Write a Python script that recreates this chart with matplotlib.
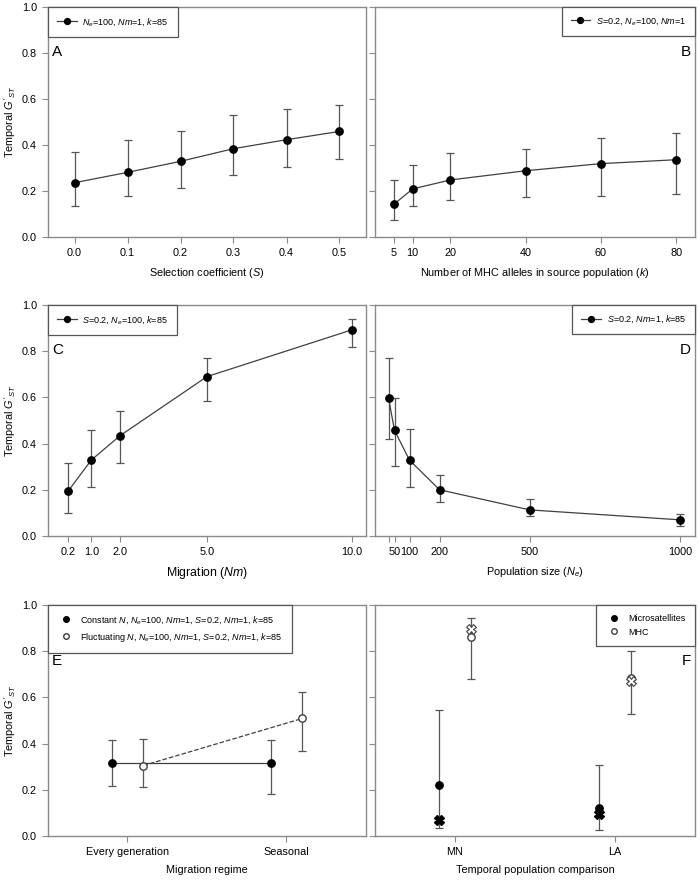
import matplotlib
matplotlib.use("Agg")
import matplotlib.pyplot as plt
from matplotlib.lines import Line2D

plt.rcParams['font.family'] = ['Liberation Sans', 'DejaVu Sans']
plt.rcParams['mathtext.fontset'] = 'custom'
plt.rcParams['mathtext.rm'] = 'Liberation Sans'
plt.rcParams['mathtext.it'] = 'Liberation Sans:italic'
plt.rcParams['mathtext.bf'] = 'Liberation Sans:bold'

# A: selection coefficient
s_vals = [0.0, 0.1, 0.2, 0.3, 0.4, 0.5]
s_mean = [0.236, 0.281, 0.329, 0.384, 0.423, 0.459]
s_low = [0.133, 0.180, 0.214, 0.268, 0.304, 0.339]
s_high = [0.370, 0.420, 0.461, 0.532, 0.557, 0.574]

# B: number of MHC alleles
k_vals = [5, 10, 20, 40, 60, 80]
k_mean = [0.142, 0.209, 0.248, 0.288, 0.319, 0.336]
k_low = [0.075, 0.136, 0.162, 0.172, 0.180, 0.187]
k_high = [0.249, 0.314, 0.367, 0.383, 0.432, 0.454]

# C: migration
nm_vals = [0.2, 1.0, 2.0, 5.0, 10.0]
nm_mean = [0.195, 0.329, 0.435, 0.690, 0.892]
nm_low = [0.100, 0.214, 0.318, 0.586, 0.820]
nm_high = [0.315, 0.461, 0.542, 0.772, 0.940]

# D: population size
ne_vals = [30, 50, 100, 200, 500, 1000]
ne_mean = [0.597, 0.457, 0.328, 0.200, 0.113, 0.070]
ne_low = [0.421, 0.304, 0.212, 0.147, 0.085, 0.045]
ne_high = [0.771, 0.597, 0.462, 0.263, 0.160, 0.095]

# E: migration regime
regimes = ['Every generation', 'Seasonal']
const_mean = [0.315, 0.315]
const_low = [0.215, 0.182]
const_high = [0.415, 0.415]
fluct_mean = [0.305, 0.509]
fluct_low = [0.210, 0.366]
fluct_high = [0.420, 0.624]

# F: temporal population comparison
pops = ['MN', 'LA']
micro_mean = [0.220, 0.123]
micro_low = [0.036, 0.028]
micro_high = [0.546, 0.307]
micro_obs = [0.071, 0.094]
mhc_mean = [0.861, 0.683]
mhc_low = [0.680, 0.527]
mhc_high = [0.944, 0.799]
mhc_obs = [0.897, 0.672]

SPINE = '#8a8a8a'
LINE = '#404040'
ERR = '#555555'
FS_TICK = 7.8
FS_LAB = 7.8
FS_LEG = 6.5

fig = plt.figure(figsize=(6.99, 8.80), dpi=100)
W, H = 699.0, 880.0


def make_ax(x0, x1, ytop, ybot):
    return fig.add_axes([x0 / W, 1 - ybot / H, (x1 - x0) / W, (ybot - ytop) / H])


axA = make_ax(48, 366, 7, 237)
axB = make_ax(375, 695, 7, 237)
axC = make_ax(48, 366, 305, 536)
axD = make_ax(375, 695, 305, 536)
axE = make_ax(48, 366, 605, 836)
axF = make_ax(375, 695, 605, 836)


def style(ax, left, xlabel, xfs=FS_LAB):
    for sp in ax.spines.values():
        sp.set_color(SPINE)
        sp.set_linewidth(1.0)
    ax.set_ylim(0, 1.0)
    ax.set_yticks([0, 0.2, 0.4, 0.6, 0.8, 1.0])
    ax.tick_params(direction='out', length=4, width=0.8, color=SPINE,
                   labelsize=FS_TICK, pad=4)
    if left:
        ax.set_yticklabels(['0.0', '0.2', '0.4', '0.6', '0.8', '1.0'])
        ax.set_ylabel(r"Temporal $G'_{ST}$", fontsize=FS_LAB)
        ax.yaxis.set_label_coords(-0.095, 0.5)
    else:
        ax.set_yticklabels([])
    ax.set_xlabel(xlabel, fontsize=xfs)
    ax.xaxis.set_label_coords(0.5, -0.125)


def errs(m, lo, hi):
    return [[a - b for a, b in zip(m, lo)], [c - a for a, c in zip(m, hi)]]


def series(ax, x, m, lo, hi, label):
    ax.errorbar(x, m, yerr=errs(m, lo, hi), fmt='none', ecolor=ERR,
                elinewidth=0.9, capsize=3, capthick=0.9, zorder=2)
    ax.plot(x, m, '-', color=LINE, lw=0.9, marker='o', ms=5.3,
            mfc='black', mec='black', label=label, zorder=3)


def legend(ax, loc, **kw):
    leg = ax.legend(loc=loc, fontsize=FS_LEG, frameon=True, fancybox=False,
                    framealpha=1, edgecolor='#555555', borderaxespad=0,
                    borderpad=1.0, **kw)
    leg.get_frame().set_linewidth(0.9)
    return leg


# A
style(axA, True, r'Selection coefficient ($S$)')
series(axA, s_vals, s_mean, s_low, s_high, r'$N_e$=100, $Nm$=1, $k$=85')
axA.set_xlim(-0.05, 0.55)
axA.set_xticks(s_vals)
axA.set_xticklabels(['%.1f' % v for v in s_vals])
legend(axA, 'upper left', handlelength=2.2, handletextpad=0.6, markerscale=0.8)
axA.text(0.012, 0.835, 'A', transform=axA.transAxes, fontsize=11, va='top')

# B
style(axB, False, r'Number of MHC alleles in source population ($k$)')
series(axB, k_vals, k_mean, k_low, k_high, r'$S$=0.2, $N_e$=100, $Nm$=1')
axB.set_xlim(0, 85)
axB.set_xticks(k_vals)
axB.set_xticklabels([str(v) for v in k_vals])
legend(axB, 'upper right', handlelength=2.2, handletextpad=0.6, markerscale=0.8)
axB.text(0.988, 0.835, 'B', transform=axB.transAxes, fontsize=11,
         va='top', ha='right')

# C
style(axC, True, r'Migration ($Nm$)', xfs=8.8)
series(axC, nm_vals, nm_mean, nm_low, nm_high, r'$S$=0.2, $N_e$=100, $k$=85')
axC.set_xlim(-0.5, 10.5)
axC.set_xticks(nm_vals)
axC.set_xticklabels(['%.1f' % v for v in nm_vals])
legend(axC, 'upper left', handlelength=2.2, handletextpad=0.6, markerscale=0.8)
axC.text(0.012, 0.835, 'C', transform=axC.transAxes, fontsize=11, va='top')

# D
style(axD, False, r'Population size ($N_e$)')
series(axD, ne_vals, ne_mean, ne_low, ne_high, r'$S$=0.2, $Nm$=1, $k$=85')
axD.set_xlim(-15, 1050)
axD.set_xticks(ne_vals)
axD.set_xticklabels([''] + [str(v) for v in ne_vals[1:]])
legend(axD, 'upper right', handlelength=2.2, handletextpad=0.6, markerscale=0.8)
axD.text(0.988, 0.835, 'D', transform=axD.transAxes, fontsize=11,
         va='top', ha='right')

# E
style(axE, True, 'Migration regime')
xe = [1, 2]
xc = [v - 0.1 for v in xe]
xf = [v + 0.1 for v in xe]
axE.errorbar(xc, const_mean, yerr=errs(const_mean, const_low, const_high),
             fmt='none', ecolor=ERR, elinewidth=0.9, capsize=3, capthick=0.9)
axE.errorbar(xf, fluct_mean, yerr=errs(fluct_mean, fluct_low, fluct_high),
             fmt='none', ecolor=ERR, elinewidth=0.9, capsize=3, capthick=0.9)
axE.plot(xc, const_mean, '-', color=LINE, lw=0.9, marker='o', ms=5.3,
         mfc='black', mec='black', zorder=3)
axE.plot(xf, fluct_mean, '--', color=LINE, lw=0.9, marker='o', ms=5.3,
         mfc='white', mec=LINE, zorder=3)
axE.set_xlim(0.5, 2.5)
axE.set_xticks(xe)
axE.set_xticklabels(regimes)
hE = [Line2D([], [], ls='none', marker='o', ms=4, mfc='black', mec='black'),
      Line2D([], [], ls='none', marker='o', ms=4, mfc='white', mec=LINE)]
legend(axE, 'upper left', handles=hE,
       labels=[r'Constant $N$, $N_e$=100, $Nm$=1, $S$=0.2, $Nm$=1, $k$=85',
               r'Fluctuating $N$, $N_e$=100, $Nm$=1, $S$=0.2, $Nm$=1, $k$=85'],
       handlelength=2.0, handletextpad=0.6, labelspacing=0.5)
axE.text(0.012, 0.79, 'E', transform=axE.transAxes, fontsize=11, va='top')

# F
style(axF, False, 'Temporal population comparison')
xm = [v - 0.1 for v in xe]
xh = [v + 0.1 for v in xe]
axF.errorbar(xm, micro_mean, yerr=errs(micro_mean, micro_low, micro_high),
             fmt='none', ecolor=ERR, elinewidth=0.9, capsize=3, capthick=0.9)
axF.errorbar(xh, mhc_mean, yerr=errs(mhc_mean, mhc_low, mhc_high),
             fmt='none', ecolor=ERR, elinewidth=0.9, capsize=3, capthick=0.9)
axF.plot(xm, micro_mean, ls='none', marker='o', ms=5.3, mfc='black',
         mec='black', zorder=3)
axF.plot(xh, mhc_mean, ls='none', marker='o', ms=5.3, mfc='white',
         mec=LINE, zorder=3)
axF.plot(xm, micro_obs, ls='none', marker='X', ms=7, mfc='black',
         mec='black', zorder=4)
axF.plot(xh, mhc_obs, ls='none', marker='X', ms=7, mfc='white',
         mec=LINE, mew=0.8, zorder=4)
axF.set_xlim(0.5, 2.5)
axF.set_xticks(xe)
axF.set_xticklabels(pops)
hF = [Line2D([], [], ls='none', marker='o', ms=4, mfc='black', mec='black'),
      Line2D([], [], ls='none', marker='o', ms=4, mfc='white', mec=LINE)]
legend(axF, 'upper right', handles=hF, labels=['Microsatellites', 'MHC'],
       handlelength=2.0, handletextpad=0.6, labelspacing=0.5)
axF.text(0.988, 0.79, 'F', transform=axF.transAxes, fontsize=11,
         va='top', ha='right')

plt.savefig('out.png', dpi=100)
